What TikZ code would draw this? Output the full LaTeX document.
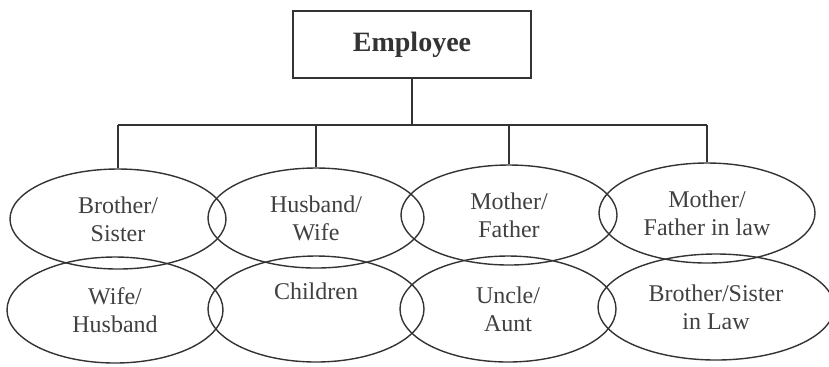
\documentclass[tikz,border=0pt]{standalone}
\usepackage{fontspec}
\setmainfont{Liberation Serif}
\usetikzlibrary{shapes.geometric}
\usetikzlibrary{calc}

\begin{document}
\begin{tikzpicture}[x=0.5pt, y=-0.5pt,
	ink/.style={draw=black!80, line width=0.7pt},
	headbox/.style={ink, rectangle, minimum width=119pt, minimum height=33.5pt, font=\fontsize{14}{16}\selectfont\bfseries, text=black!80},
	relbox/.style={ink, ellipse, minimum width=108pt, minimum height=50pt, inner sep=0pt, align=center, font=\fontsize{12}{14}\selectfont, text=black!75},
	lowbox/.style={relbox, minimum height=53pt}]
	% page: 829 x 366 px, 1px = 0.5pt
	\useasboundingbox (0, 0) rectangle (829, 366);
	
	% head
	\node[headbox] (emp) at (412, 44.5) {Employee};
	
	% first row
	\node[relbox] (bs)  at (118, 219) {Brother/\\Sister};
	\node[relbox] (hw)  at (316, 218) {Husband/\\Wife};
	\node[relbox] (mf)  at (509, 215) {Mother/\\Father};
	\node[relbox] (mfl) at (707, 213) {Mother/\\Father in law};
	
	% second row
	\node[lowbox] (wh)  at (115, 310) {Wife/\\Husband};
	\node[lowbox] (ch)  at (316, 309) {Children\\\strut};
	\node[lowbox] (ua)  at (508, 309) {Uncle/\\Aunt};
	\node[lowbox, minimum width=118pt] (bsl) at (716, 307) {Brother/Sister\\in Law};
	
	% bus
	\coordinate (bus) at (412, 125);
	\draw[ink] (emp.south) -- (bus);
	\draw[ink] (bs.north |- bus) -- (mfl.north |- bus);
	\foreach \n in {bs, hw, mf, mfl}
		\draw[ink] (\n.north |- bus) -- (\n.north);
	
\end{tikzpicture}
\end{document}
